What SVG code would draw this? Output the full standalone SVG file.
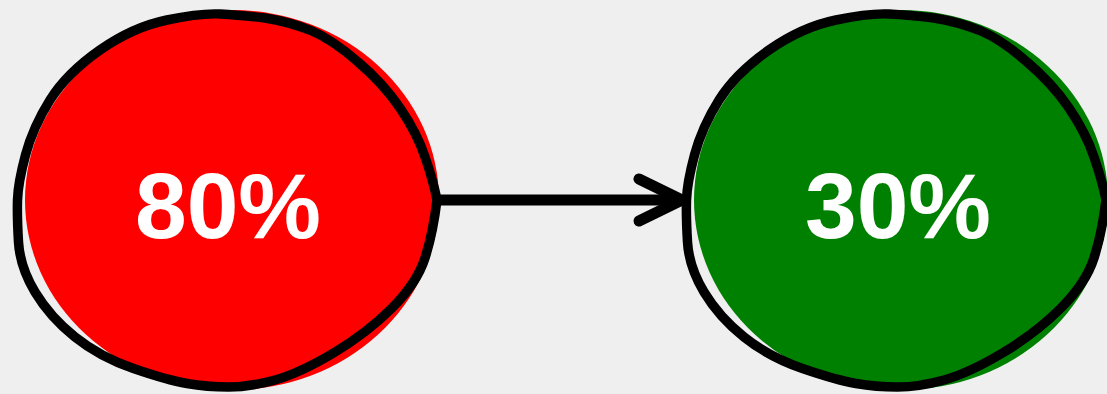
<svg xmlns="http://www.w3.org/2000/svg" width="1107" height="394" viewBox="0 0 1107 394">
<defs>
<style>
.outline{fill:none;stroke:#000;stroke-width:9.5;stroke-linejoin:round;stroke-linecap:round}
.lbl{font-family:"Liberation Sans",Arial,sans-serif;font-weight:bold;font-size:93px;fill:#fff;text-anchor:middle}
.conn{fill:none;stroke:#000;stroke-width:11;stroke-linecap:round;stroke-linejoin:round}
</style>
<path id="ring" d="M 437 200 Q 433 180 425 157 Q 417 133 400 108 Q 383 83 358 62 Q 333 40 312 31 Q 290 22 265 18 Q 240 15 220 14 Q 200 13 167 20 Q 133 27 100 50 Q 67 73 50 100 Q 33 127 25.5 155 Q 18 183 17.5 200 Q 17 217 18.5 242 Q 20 267 35 292 Q 50 317 75 337 Q 100 357 133.5 368.5 Q 167 380 187 383.5 Q 207 387 228.5 387 Q 250 387 275 380 Q 300 373 333.5 353 Q 367 333 392 308 Q 417 283 425 258 Q 433 233 437 200 Z"/>
</defs>
<rect width="1107" height="394" fill="#efefef"/>
<g id="node-80">
<ellipse cx="232" cy="200" rx="207" ry="190" fill="#ff0000"/>
<use href="#ring" class="outline"/>
<text class="lbl" x="228" y="238">80%</text>
</g>
<g id="node-30">
<ellipse cx="901" cy="200" rx="207" ry="190" fill="#008000"/>
<use href="#ring" class="outline" transform="translate(669,0)"/>
<text class="lbl" x="898" y="238">30%</text>
</g>
<g id="connectors">
<path class="conn" d="M 440 200 L 682 200"/>
<path class="conn" d="M 639 179 L 682 200 L 639 221"/>
</g>
</svg>
